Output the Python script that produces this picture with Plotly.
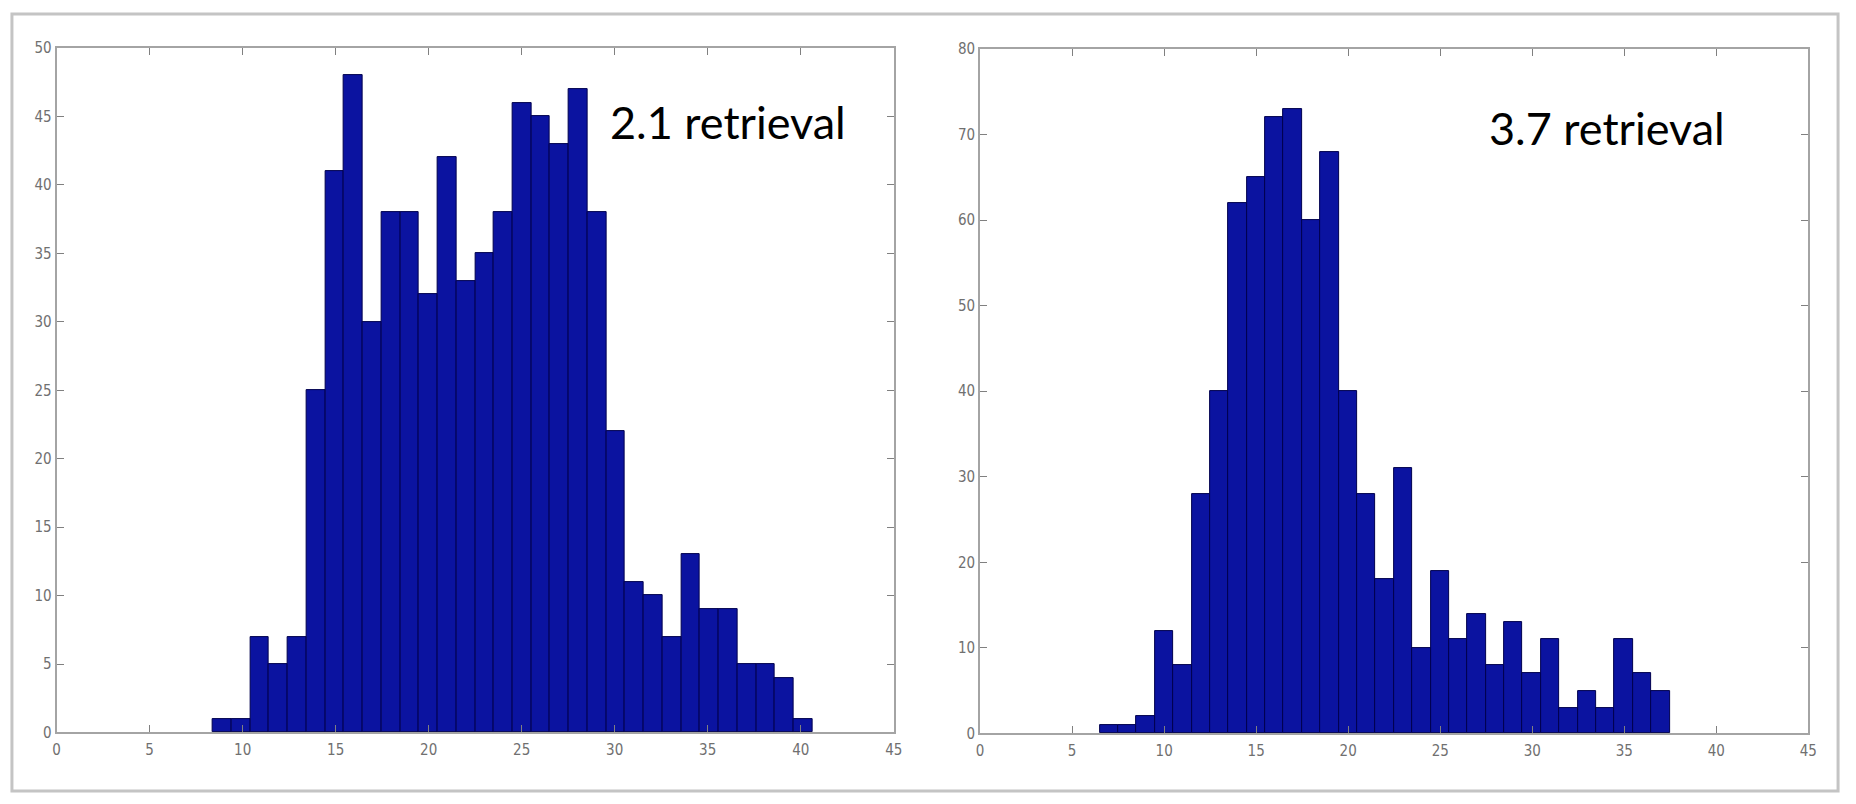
import plotly.graph_objects as go

# ---- data ----
left_counts = [1, 1, 7, 5, 7, 25, 41, 48, 30, 38, 38, 32, 42, 33, 35, 38,
               46, 45, 43, 47, 38, 22, 11, 10, 7, 13, 9, 9, 5, 5, 4, 1]
left_bin_start = 8.40
left_bin_width = 1.007

right_counts = [1, 1, 2, 12, 8, 28, 40, 62, 65, 72, 73, 60, 68, 40, 28, 18,
                31, 10, 19, 11, 14, 8, 13, 7, 11, 3, 5, 3, 11, 7, 5]
right_bin_start = 6.50
right_bin_width = 0.999

left_label = "2.1 retrieval"
right_label = "3.7 retrieval"

x_ticks = [0, 5, 10, 15, 20, 25, 30, 35, 40, 45]
left_y_ticks = [0, 5, 10, 15, 20, 25, 30, 35, 40, 45, 50]
right_y_ticks = [0, 10, 20, 30, 40, 50, 60, 70, 80]

# ---- layout geometry (pixels) ----
W, H = 1856, 804
def px(x):
    return x / W
def py(y):
    return 1 - y / H

BAR_FILL = "#0b13a0"
BAR_EDGE = "#00004e"
AXIS_COL = "#a4a4a4"
TICK_FONT = dict(family="Liberation Sans Narrow, DejaVu Sans Condensed, Liberation Sans, sans-serif",
                 size=15, color="#707070")

def centers(start, width, n):
    return [start + width * (i + 0.5) for i in range(n)]

fig = go.Figure()
fig.add_trace(go.Bar(
    x=centers(left_bin_start, left_bin_width, len(left_counts)),
    y=left_counts, width=left_bin_width,
    marker=dict(color=BAR_FILL, line=dict(color=BAR_EDGE, width=1)),
    xaxis="x", yaxis="y", showlegend=False))
fig.add_trace(go.Bar(
    x=centers(right_bin_start, right_bin_width, len(right_counts)),
    y=right_counts, width=right_bin_width,
    marker=dict(color=BAR_FILL, line=dict(color=BAR_EDGE, width=1)),
    xaxis="x2", yaxis="y2", showlegend=False))

def xax(domain, anchor):
    return dict(domain=domain, anchor=anchor, range=[0, 45], tickvals=x_ticks,
                ticks="inside", ticklen=7, tickcolor="#808080", tickwidth=1,
                showline=True, linecolor=AXIS_COL, linewidth=2, mirror="ticks",
                showgrid=False, zeroline=False, tickfont=TICK_FONT, fixedrange=True,
                ticklabelstandoff=3)

def yax(domain, anchor, rng, tv):
    return dict(domain=domain, anchor=anchor, range=rng, tickvals=tv,
                ticks="inside", ticklen=7, tickcolor="#808080", tickwidth=1,
                showline=True, linecolor=AXIS_COL, linewidth=2, mirror="ticks",
                showgrid=False, zeroline=False, tickfont=TICK_FONT, fixedrange=True)

fig.update_layout(
    width=W, height=H,
    margin=dict(l=0, r=0, t=0, b=0),
    paper_bgcolor="white", plot_bgcolor="white",
    bargap=0,
    xaxis=xax([px(53), px(896)], "y"),
    yaxis=yax([py(740), py(40)], "x", [0, 50], left_y_ticks),
    xaxis2=xax([px(983), px(1817)], "y2"),
    yaxis2=yax([py(741), py(41)], "x2", [0, 80], right_y_ticks),
    shapes=[dict(type="rect", xref="paper", yref="paper",
                 x0=px(8), x1=px(1847), y0=py(800), y1=py(5),
                 line=dict(color="#c4c4c4", width=3))],
    annotations=[
        dict(text=left_label, xref="paper", yref="paper", x=px(608), y=py(116),
             xanchor="left", yanchor="middle", showarrow=False,
             font=dict(family="Lato, sans-serif", size=45, color="black")),
        dict(text=right_label, xref="paper", yref="paper", x=px(1493), y=py(122),
             xanchor="left", yanchor="middle", showarrow=False,
             font=dict(family="Lato, sans-serif", size=45, color="black")),
    ],
)

fig.write_html("out.html")
